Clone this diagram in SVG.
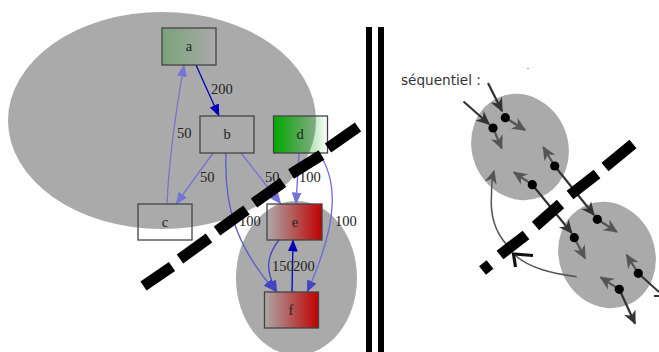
<svg xmlns="http://www.w3.org/2000/svg" width="659" height="352" viewBox="0 0 659 352">
<defs>
<style>
.n{stroke:#444;stroke-width:1.3}
.t{font-family:"Liberation Serif",serif;font-size:14.500px;fill:#222}
.c{text-anchor:middle}
.e{fill:none;stroke-width:1.3}
.d{stroke:#000;stroke-width:11;fill:none}
.k{stroke:#333;stroke-width:2.200;fill:none;marker-end:url(#mk)}
.g{stroke:#555;stroke-width:2.200;fill:none;marker-end:url(#mg)}
</style>
<linearGradient id="ga"><stop offset="0" stop-color="#2f9a2f" stop-opacity=".4"/><stop offset="1" stop-color="#2f9a2f" stop-opacity="0"/></linearGradient>
<linearGradient id="gd"><stop offset="0" stop-color="#00a800"/><stop offset="1" stop-color="#00a800" stop-opacity="0"/></linearGradient>
<linearGradient id="ge"><stop offset="0" stop-color="#c00000" stop-opacity="0"/><stop offset="1" stop-color="#c00000"/></linearGradient>
<marker id="m1" viewBox="0 0 12 10" refX="11.500" refY="5" markerWidth="12" markerHeight="10" markerUnits="userSpaceOnUse" orient="auto"><path d="M0 0L12 5L0 10z" fill="#0000b8"/></marker>
<marker id="m2" viewBox="0 0 12 10" refX="11.500" refY="5" markerWidth="12" markerHeight="10" markerUnits="userSpaceOnUse" orient="auto"><path d="M0 0L12 5L0 10z" fill="#7474d8"/></marker>
<marker id="m3" viewBox="0 0 12 10" refX="11.500" refY="5" markerWidth="12" markerHeight="10" markerUnits="userSpaceOnUse" orient="auto"><path d="M0 0L12 5L0 10z" fill="#4444c4"/></marker>
<marker id="mk" viewBox="0 0 10 10" refX="9" refY="5" markerWidth="14" markerHeight="14" markerUnits="userSpaceOnUse" orient="auto"><path d="M0 0.500L10 5L0 9.500L3 5z" fill="#333"/></marker>
<marker id="mg" viewBox="0 0 10 10" refX="9" refY="5" markerWidth="14" markerHeight="14" markerUnits="userSpaceOnUse" orient="auto"><path d="M0 0.500L10 5L0 9.500L3 5z" fill="#555"/></marker>
</defs>
<rect width="659" height="352" fill="#fff"/>
<g id="blobs" fill="#aaa">
<ellipse cx="162" cy="120.500" rx="154" ry="108.500"/>
<ellipse cx="296.500" cy="278" rx="60.500" ry="77"/>
<ellipse cx="520" cy="147" rx="48" ry="54" transform="rotate(-22 520 147)"/>
<ellipse cx="607" cy="255" rx="48" ry="54" transform="rotate(-22 607 255)"/>
</g>
<g id="connectors">
<path class="e" stroke="#0000b8" marker-end="url(#m1)" d="M196 65L219 116"/>
<path class="e" stroke="#7474cc" marker-end="url(#m2)" d="M167 204C169 160 176 110 184 65"/>
<path class="e" stroke="#7474cc" marker-end="url(#m2)" d="M213 153L176 204"/>
<path class="e" stroke="#5a5ad0" marker-end="url(#m3)" d="M226 153C224 205 235 245 275 291"/>
<path class="e" stroke="#7474dd" marker-end="url(#m2)" d="M241 153L281 204"/>
<path class="e" stroke="#6a6ae0" marker-end="url(#m2)" d="M299 153L296 204"/>
<path class="e" stroke="#6a6ae0" marker-end="url(#m3)" d="M319 153C337 180 340 220 307 292"/>
<path class="e" stroke="#4444c4" stroke-width="1.500" marker-end="url(#m3)" d="M279 240C265 258 266 272 277 292"/>
<path class="e" stroke="#0000c8" stroke-width="1.500" marker-end="url(#m1)" d="M292 292L293 240"/>
</g>
<g id="a"><rect class="n" x="162" y="28" width="54" height="37" fill="url(#ga)"/><text class="t c" x="189" y="51">a</text></g>
<g id="b"><rect class="n" x="200" y="116" width="54" height="37" fill="none"/><text class="t c" x="227" y="139">b</text></g>
<g id="c"><rect class="n" x="138" y="204" width="54" height="36" fill="none"/><text class="t c" x="165" y="227">c</text></g>
<g id="d"><rect class="n" x="273.500" y="116" width="54" height="37" fill="url(#gd)"/><text class="t c" x="300" y="139">d</text></g>
<g id="e"><rect class="n" x="267" y="204" width="55" height="36" fill="url(#ge)"/><text class="t c" x="295" y="227">e</text></g>
<g id="f"><rect class="n" x="264.500" y="292" width="54" height="36" fill="url(#ge)"/><text class="t c" x="291" y="315">f</text></g>
<g id="labels">
<text class="t" x="211" y="94">200</text>
<text class="t" x="177" y="138">50</text>
<text class="t" x="200" y="182">50</text>
<text class="t" x="265" y="182">50</text>
<text class="t" x="299" y="182">100</text>
<text class="t" x="239" y="226">100</text>
<text class="t" x="335" y="226">100</text>
<text class="t" x="272" y="271">150</text>
<text class="t" x="293" y="271">200</text>
</g>
<g id="dashes-left">
<path class="d" d="M143.500 286L172 266.500M180 259L209 238M217 231L246.500 210M254 203L283 182.500M291 174L321.500 155M328 148L358 127"/>
</g>
<g id="separator" fill="#000">
<rect x="366" y="27" width="6" height="325"/>
<rect x="378" y="27" width="6" height="325"/>
</g>
<g id="right">
<text x="401" y="85" style="font-family:'DejaVu Sans',sans-serif;font-size:13.600px;fill:#333">séquentiel :</text>
<circle cx="528" cy="68.500" r="0.700" fill="#777"/>
<path class="k" d="M488 83L502 111"/>
<path class="k" d="M463.500 101.500L489 124"/>
<path class="g" d="M505.300 117.700L525 130"/>
<path class="g" d="M493 128L501.700 148.300"/>
<path class="g" d="M554.700 166L543.300 147.300"/>
<path class="g" d="M532.300 184.700L514 172.300"/>
<path class="k" d="M554.700 166L594 215"/>
<path class="k" d="M532.300 184.700L571.700 233"/>
<path class="g" d="M597.300 219.300L616.700 231.700"/>
<path class="g" d="M574.300 237.700L585 258.300"/>
<path class="g" d="M638.300 273.300L626.700 255"/>
<path class="g" d="M619.300 289.300L600.700 277.300"/>
<path class="k" d="M619.300 289.300L635 323.500"/>
<path d="M638.300 273.300L659 292M654 296L659 296" stroke="#333" stroke-width="2" fill="none"/>
<path d="M507 245C495 232 490 215 491.500 195C491.500 185 492 178 494 171" class="g" style="stroke-width:1.500px"/>
<path d="M576.700 276.700C550 273 530 268 516 256" stroke="#555" stroke-width="1.500" fill="none"/>
<g fill="#000">
<circle cx="505.300" cy="117.700" r="4.600"/>
<circle cx="493" cy="128" r="4.600"/>
<circle cx="554.700" cy="166" r="4.600"/>
<circle cx="532.300" cy="184.700" r="4.600"/>
<circle cx="597.300" cy="219.300" r="4.600"/>
<circle cx="574.300" cy="237.700" r="4.600"/>
<circle cx="638.300" cy="273.300" r="4.600"/>
<circle cx="619.300" cy="289.300" r="4.600"/>
</g>
<path class="d" d="M482.500 270.500L490 264.500M500 255L526 235M535.500 226L560.500 204M570 195L597 174M605 167L633 144"/>
<path d="M533 255.500L513.500 254L515.500 267" stroke="#111" stroke-width="3.200" fill="none"/>
</g>
</svg>
